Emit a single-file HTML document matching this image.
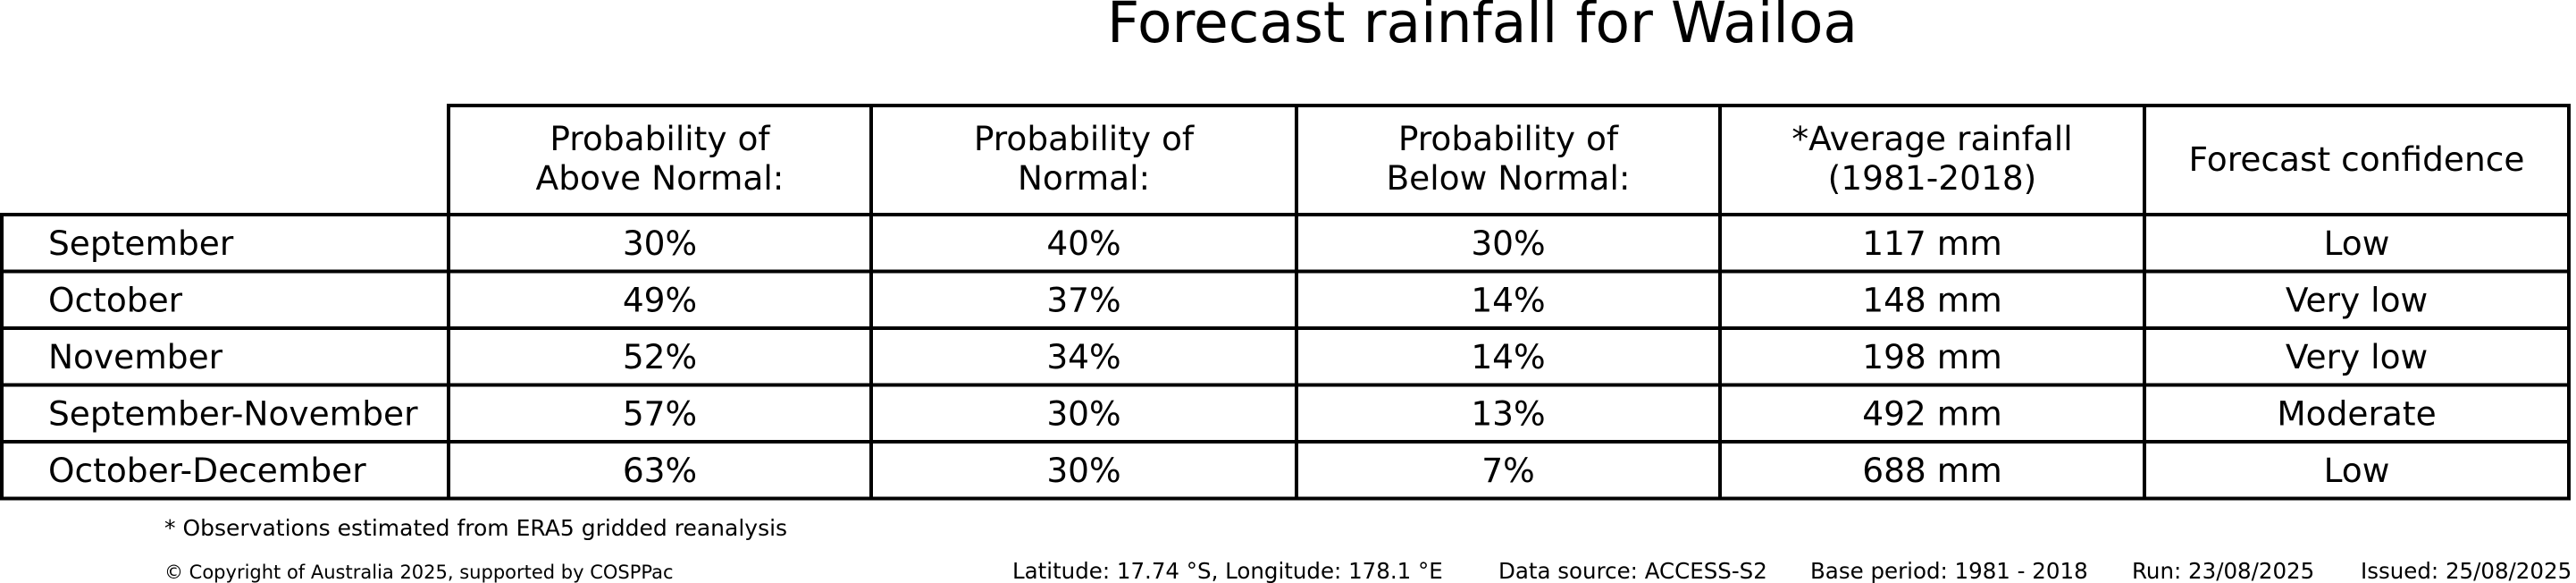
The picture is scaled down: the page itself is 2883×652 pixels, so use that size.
<!DOCTYPE html>
<html><head><meta charset="utf-8"><style>
html,body{margin:0;padding:0;background:#fff;width:2883px;height:652px;overflow:hidden}
svg text{font-family:"DejaVu Sans","Liberation Sans",sans-serif;fill:#000}
</style></head><body>
<svg id="chart" width="2883" height="652" viewBox="0 0 2883 652" xmlns="http://www.w3.org/2000/svg">
<text x="1659" y="47" font-size="63" text-anchor="middle">Forecast rainfall for Wailoa</text>
<g id="tbl"></g>
<text x="184" y="599" font-size="25">* Observations estimated from ERA5 gridded reanalysis</text>
<text x="184" y="647" font-size="21">© Copyright of Australia 2025, supported by COSPPac</text>
<text x="1133" y="647" font-size="24.5">Latitude: 17.74 °S, Longitude: 178.1 °E</text>
<text x="1677" y="647" font-size="24.5">Data source: ACCESS-S2</text>
<text x="2026" y="647" font-size="24.5">Base period: 1981 - 2018</text>
<text x="2386" y="647" font-size="24.5">Run: 23/08/2025</text>
<text x="2642" y="647" font-size="24.5">Issued: 25/08/2025</text>
</svg>
<script>
const periods = ["September","October","November","September-November","October-December"];
const aboveNormal = [30,49,52,57,63];
const normal = [40,37,34,30,30];
const belowNormal = [30,14,14,13,7];
const avgRainfall = [117,148,198,492,688];
const confidence = ["Low","Very low","Very low","Moderate","Low"];
const headers = [["Probability of","Above Normal:"],["Probability of","Normal:"],["Probability of","Below Normal:"],["*Average rainfall","(1981-2018)"],["Forecast confidence"]];

const NS = "http://www.w3.org/2000/svg";
const g = document.getElementById("tbl");
const colX = [2,502,975,1451,1925,2400,2875];
const headTop = 118, headBot = 240, rowH = 63.5;
const FS = 37.5;
function mk(tag, attrs){const e=document.createElementNS(NS,tag);for(const k in attrs)e.setAttribute(k,attrs[k]);g.appendChild(e);return e;}
function line(x1,y1,x2,y2){const l=mk("line",{x1,y1,x2,y2,stroke:"#000","stroke-width":4,"stroke-linecap":"square"});

}
function txt(s,x,y,anchor,name){const t=mk("text",{x,y,"font-size":FS,"text-anchor":anchor});t.textContent=s;

}
const n = periods.length;
const bottom = headBot + n*rowH;
line(colX[1],headTop,colX[6],headTop);
for(let i=1;i<7;i++) line(colX[i],headTop,colX[i],bottom);
line(colX[0],headBot,colX[0],bottom);
for(let r=0;r<=n;r++) line(colX[0],headBot+r*rowH,colX[6],headBot+r*rowH);
headers.forEach((h,i)=>{
  const cx=(colX[i+1]+colX[i+2])/2;
  if(h.length===2){txt(h[0],cx,168,"middle","header-cell");txt(h[1],cx,212,"middle","header-cell");}
  else txt(h[0],cx,191,"middle","header-cell");
});
for(let r=0;r<n;r++){
  const y=headBot+r*rowH+45;
  txt(periods[r],54,y,"start","row-label");
  const vals=[aboveNormal[r]+"%",normal[r]+"%",belowNormal[r]+"%",avgRainfall[r]+" mm",confidence[r]];
  vals.forEach((v,i)=>txt(v,(colX[i+1]+colX[i+2])/2,y,"middle","table-cell"));
}
</script>
</body></html>
